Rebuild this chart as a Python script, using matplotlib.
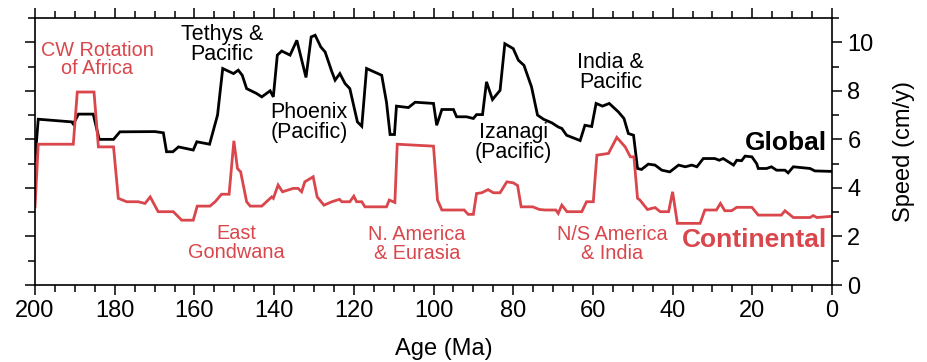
import matplotlib.pyplot as plt
from matplotlib.ticker import MultipleLocator

# Global plate speed (age in Ma, speed in cm/y)
global_age = [200, 199.2, 190.8, 190.4, 189.1, 185.4, 183.9, 180.3, 178.7, 169.9, 167.8, 167.0, 165.4,
              164.0, 160.3, 159.4, 156.2, 154.2, 152.9, 150.2, 149.0, 148.0, 146.9, 144.4, 143.1,
              141.0, 140.2, 139.2, 138.1, 136.0, 134.3, 132.0, 130.7, 129.7, 128.3, 127.2, 125.5,
              124.7, 123.5, 122.2, 121.0, 119.1, 118.0, 116.8, 113.0, 111.8, 110.9, 109.8, 109.3,
              106.3, 104.6, 100.0, 99.2, 97.9, 95.0, 94.2, 91.7, 90.0, 89.2, 87.7, 86.7, 85.2,
              83.3, 82.1, 80.0, 78.7, 77.3, 75.4, 73.9, 72.4, 70.3, 68.7, 67.8, 66.6, 63.2, 62.0,
              60.3, 59.2, 57.6, 55.9, 53.6, 52.2, 51.1, 49.8, 48.8, 47.8, 46.1, 44.4, 42.7, 40.7,
              38.5, 36.8, 35.2, 33.9, 32.3, 29.4, 28.3, 27.3, 24.7, 23.9, 22.7, 21.8, 20.1, 18.9,
              18.5, 16.4, 15.2, 13.9, 11.8, 11.0, 9.7, 5.5, 4.3, 0]
global_speed = [5.14, 6.83, 6.72, 6.63, 7.04, 7.04, 6.0, 6.0, 6.31, 6.32, 6.27, 5.49, 5.49,
                5.69, 5.56, 5.9, 5.8, 7.0, 8.92, 8.71, 8.85, 8.64, 8.09, 7.89, 7.75,
                8.0, 7.75, 9.47, 9.64, 9.47, 10.08, 8.55, 10.22, 10.29, 9.81, 9.6, 8.78,
                8.44, 8.71, 8.3, 8.09, 6.72, 6.54, 8.92, 8.64, 7.53, 6.2, 6.2, 7.37,
                7.31, 7.53, 7.48, 6.58, 7.23, 7.23, 6.93, 6.93, 6.86, 7.02, 7.02, 8.37, 7.64,
                8.02, 9.94, 9.74, 9.26, 9.05, 8.16, 7.0, 6.83, 6.68, 6.51, 6.45, 6.17, 5.95, 6.58,
                6.53, 7.48, 7.37, 7.48, 7.13, 6.86, 6.24, 6.17, 4.8, 4.76, 4.98, 4.94, 4.73, 4.66,
                4.94, 4.87, 4.94, 4.87, 5.21, 5.21, 5.14, 5.21, 4.94, 5.14, 5.12, 5.31, 5.28, 5.0,
                4.8, 4.8, 4.87, 4.73, 4.73, 4.62, 4.87, 4.8, 4.7, 4.68]

# Continental plate speed
cont_age = [200, 199.2, 190.4, 189.4, 185.2, 184.1, 180.3, 179.1, 177.0, 174.1, 172.4, 171.1, 169.1,
            165.3, 163.2, 160.3, 159.3, 156.1, 154.8, 153.2, 151.3, 150.1, 149.2, 148.4, 146.9,
            146.0, 143.1, 140.6, 140.2, 139.0, 137.9, 135.2, 134.0, 133.1, 132.3, 130.2, 129.2,
            127.5, 125.5, 123.6, 123.0, 121.0, 120.0, 119.3, 118.0, 117.2, 111.8, 111.1, 109.7,
            109.1, 100.0, 99.0, 97.9, 92.3, 91.3, 90.0, 89.2, 87.9, 86.3, 85.0, 83.3, 81.6, 80.0,
            78.9, 78.0, 75.1, 73.4, 72.0, 69.3, 68.7, 67.8, 66.5, 62.8, 61.6, 59.9, 59.0, 56.1,
            54.0, 51.9, 50.6, 49.7, 48.8, 48.2, 46.3, 44.4, 43.1, 41.0, 40.0, 38.8, 33.1, 31.9,
            29.0, 28.0, 26.9, 25.2, 23.9, 20.1, 18.5, 12.7, 11.8, 9.7, 5.5, 4.7, 3.8, 0]
cont_speed = [3.22, 5.8, 5.8, 7.95, 7.95, 5.69, 5.69, 3.57, 3.43, 3.43, 3.36, 3.63, 3.02,
              3.02, 2.67, 2.67, 3.25, 3.25, 3.43, 3.74, 3.74, 5.94, 4.8, 4.66, 3.43,
              3.25, 3.25, 3.63, 3.57, 4.12, 3.84, 3.98, 3.98, 3.84, 4.25, 4.46, 3.63,
              3.29, 3.43, 3.53, 3.43, 3.43, 3.66, 3.43, 3.43, 3.22, 3.22, 3.5, 3.4,
              5.8, 5.72, 3.5, 3.09, 3.09, 2.91, 2.91, 3.77, 3.8, 3.93, 3.8, 3.8, 4.25, 4.21,
              4.1, 3.22, 3.22, 3.11, 3.09, 3.09, 2.95, 3.29, 3.02, 3.02, 3.43, 3.43, 5.35, 5.42,
              6.08, 5.69, 5.28, 5.28, 3.57, 3.5, 3.11, 3.19, 3.02, 3.02, 3.84, 2.54, 2.54, 3.09,
              3.09, 3.36, 3.06, 3.06, 3.2, 3.2, 2.88, 2.88, 3.06, 2.78, 2.78, 2.86, 2.78, 2.83]

red = '#d9464b'

plt.rcParams['font.family'] = ['Liberation Sans', 'DejaVu Sans']

fig = plt.figure(figsize=(9.27, 3.62), dpi=100)
ax = fig.add_axes([0.0378, 0.2127, 0.8597, 0.7376])

ax.plot(global_age, global_speed, color='black', lw=2.0, solid_joinstyle='miter')
ax.plot(cont_age, cont_speed, color=red, lw=2.0, solid_joinstyle='miter')

ax.set_xlim(200, 0)
ax.set_ylim(0, 11)

ax.xaxis.set_major_locator(MultipleLocator(20))
ax.xaxis.set_minor_locator(MultipleLocator(5))
ax.yaxis.set_major_locator(MultipleLocator(2))
ax.yaxis.set_minor_locator(MultipleLocator(1))
ax.tick_params(which='both', direction='out', top=True, bottom=True, left=True, right=True,
               labelleft=False, labelright=True, width=1.1, labelsize=17)
ax.tick_params(which='major', length=7, pad=4)
ax.tick_params(which='minor', length=5)
for s in ax.spines.values():
    s.set_linewidth(1.2)

ax.yaxis.set_label_position('right')
ax.set_ylabel('Speed (cm/y)', fontsize=17, labelpad=14)
ax.set_xlabel('Age (Ma)', fontsize=17, labelpad=6)
ax.xaxis.set_label_coords(0.513, -0.2)

# black annotations
ax.text(153.1, 9.92, 'Tethys &\nPacific', ha='center', va='center', fontsize=15.5, linespacing=0.95)
ax.text(131.2, 6.71, 'Phoenix\n(Pacific)', ha='center', va='center', fontsize=15.5, linespacing=0.95)
ax.text(80.0, 5.88, 'Izanagi\n(Pacific)', ha='center', va='center', fontsize=15.5, linespacing=0.95)
ax.text(55.5, 8.77, 'India &\nPacific', ha='center', va='center', fontsize=15.5, linespacing=0.95)
ax.text(1.3, 5.84, 'Global', ha='right', va='center', fontsize=19, fontweight='bold')

# red annotations
ax.text(184.4, 9.3, 'CW Rotation\nof Africa', ha='center', va='center', fontsize=14.3,
        color=red, linespacing=0.95)
ax.text(149.6, 1.73, 'East\nGondwana', ha='center', va='center', fontsize=14.3,
        color=red, linespacing=0.95)
ax.text(104.1, 1.69, 'N. America\n& Eurasia', ha='center', va='center', fontsize=14.3,
        color=red, linespacing=0.95)
ax.text(55.2, 1.69, 'N/S America\n& India', ha='center', va='center', fontsize=14.3,
        color=red, linespacing=0.95)
ax.text(1.3, 1.85, 'Continental', ha='right', va='center', fontsize=19, fontweight='bold',
        color=red)

fig.savefig('out.png', dpi=100)
